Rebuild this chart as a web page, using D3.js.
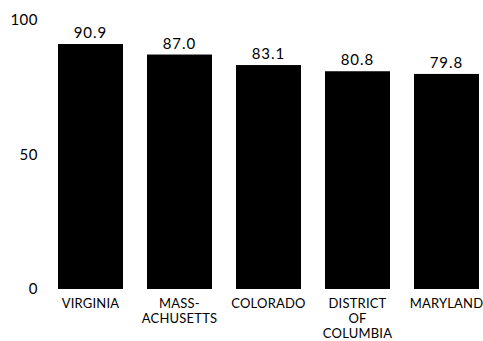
<!DOCTYPE html>
<html>
<head>
<meta charset="utf-8">
<script src="https://cdn.jsdelivr.net/npm/d3@7"></script>
<style>
  html, body { margin: 0; padding: 0; background: #fff; }
  svg text { font-family: "Lato", "Open Sans", sans-serif; fill: #000; }
</style>
</head>
<body>
<svg id="chart" width="483" height="341"></svg>
<script>
const states = ["VIRGINIA", "MASS-\nACHUSETTS", "COLORADO", "DISTRICT\nOF\nCOLUMBIA", "MARYLAND"];
const values = [90.9, 87.0, 83.1, 80.8, 79.8];
const yTicks = [0, 50, 100];

const svg = d3.select("#chart");

const x = d3.scaleBand()
  .domain(states)
  .range([58 - 12, 479 + 12])
  .paddingInner(24 / 89)
  .paddingOuter(12 / 89);

const y = d3.scaleLinear()
  .domain([0, 100])
  .range([289, 19.5]);

// bars
svg.append("g")
  .selectAll("rect")
  .data(values)
  .join("rect")
  .attr("x", (d, i) => x(states[i]))
  .attr("width", x.bandwidth())
  .attr("y", d => y(d))
  .attr("height", d => y(0) - y(d))
  .attr("fill", "#000");

// value labels
svg.append("g")
  .selectAll("text")
  .data(values)
  .join("text")
  .attr("x", (d, i) => x(states[i]) + x.bandwidth() / 2)
  .attr("y", d => y(d) - 6)
  .attr("text-anchor", "middle")
  .attr("font-size", 15)
  .attr("letter-spacing", 1)
  .text(d => d.toFixed(1));

// y axis (labels only)
const yAxis = d3.axisLeft(y).tickValues(yTicks).tickSize(0).tickPadding(0);
const yg = svg.append("g").attr("transform", "translate(38,0)").call(yAxis);
yg.select(".domain").remove();
yg.selectAll("text")
  .attr("font-size", 15)
  .attr("letter-spacing", 0.5)
  .attr("font-family", "Lato, 'Open Sans', sans-serif")
  .attr("fill", "#000");

// category labels (multi-line)
const xg = svg.append("g");
states.forEach(s => {
  const cx = x(s) + x.bandwidth() / 2;
  const t = xg.append("text")
    .attr("x", cx)
    .attr("y", 308)
    .attr("text-anchor", "middle")
    .attr("font-size", 13)
    .attr("letter-spacing", 0.2);
  s.split("\n").forEach((line, j) => {
    t.append("tspan")
      .attr("x", cx)
      .attr("dy", j === 0 ? 0 : 15)
      .text(line);
  });
});
</script>
</body>
</html>
